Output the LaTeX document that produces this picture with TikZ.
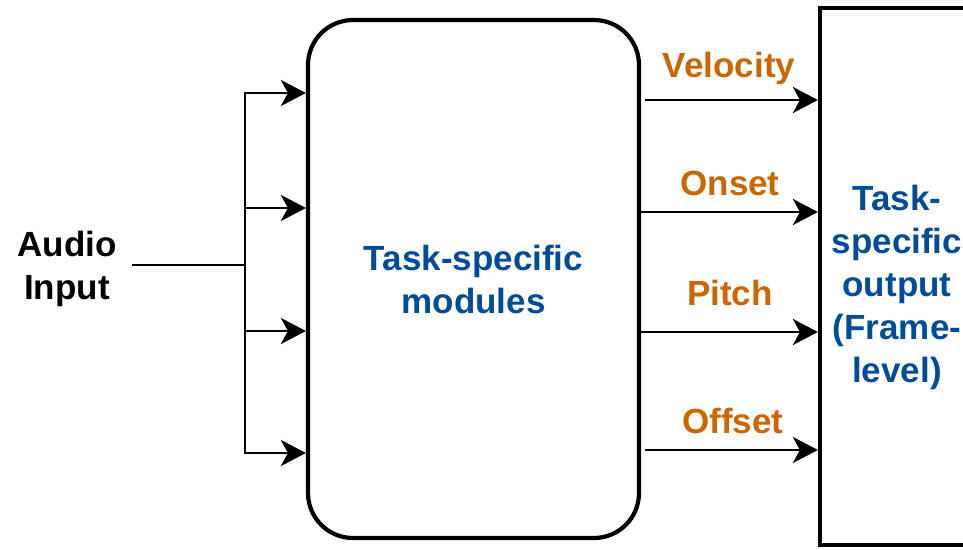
\documentclass[tikz,border=0pt]{standalone}
\usepackage{fontspec}
\setmainfont{Liberation Sans}
\usetikzlibrary{arrows.meta}
\definecolor{lblorange}{HTML}{CC6600}
\definecolor{lblblue}{HTML}{004C99}
\begin{document}
\begin{tikzpicture}[x=1pt,y=-1pt,
  every node/.style={font=\bfseries\fontsize{35}{43}\selectfont, align=center, inner sep=0pt},
  conn/.style={line width=2.7pt, -{Stealth[length=25pt,width=26pt,inset=7pt]}},
  plain/.style={line width=2.7pt},
  lbl/.style={text=lblorange, anchor=base},
  boxtext/.style={text=lblblue},
  mainbox/.style={draw, line width=4.2pt, rounded corners=45pt, minimum width=331pt, minimum height=518pt},
  outbox/.style={draw, line width=4.2pt, minimum width=155pt, minimum height=537pt}
]
\useasboundingbox (0,0) rectangle (963,549);
\fill[white] (0,0) rectangle (963,549);

% main block
\node[mainbox, boxtext] (main) at (473.5,279) {Task-specific\\modules};

% output block (runs past the right edge)
\begin{scope}
  \clip (0,0) rectangle (963,549);
  \node[outbox] (rbox) at (897.5,276.5) {};
\end{scope}
\node[boxtext] (rtext) at (897,287) {Task-\\specific\\output\\(Frame-\\level)};

% audio input
\node (audio) at (67,269) {Audio\\Input};
\coordinate (a0) at (132,265);
\coordinate (bj) at (245,265);
\coordinate (b1) at (245,93);
\coordinate (b2) at (245,208);
\coordinate (b3) at (245,331);
\coordinate (b4) at (245,453);

\draw[plain] (a0) -- (bj);
\foreach \i in {1,...,4}
  \draw[conn] (bj) |- (main.west |- b\i);

% outputs
\coordinate (r1) at (645,100);
\coordinate (r2) at (641,212);
\coordinate (r3) at (641,332);
\coordinate (r4) at (645,450);
\foreach \i in {1,...,4}
  \draw[conn] (r\i) -- (rbox.west |- r\i);

\node[lbl] (lv) at (729,77) {Velocity};
\node[lbl] (lo) at (730,195) {Onset};
\node[lbl] (lp) at (730,305) {Pitch};
\node[lbl] (lf) at (733,433) {Offset};
\end{tikzpicture}
\end{document}
